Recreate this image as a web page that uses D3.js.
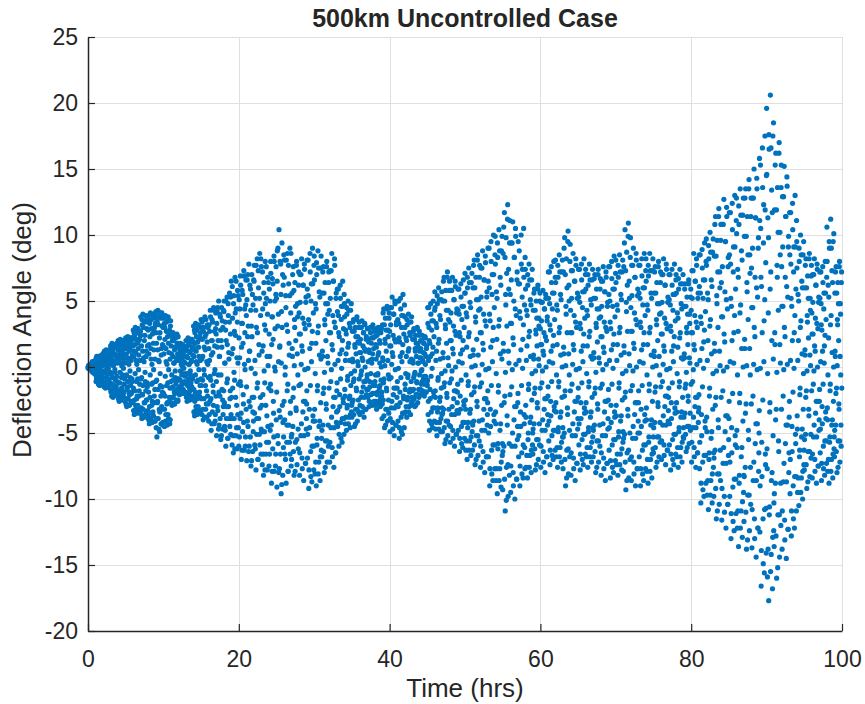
<!DOCTYPE html>
<html>
<head>
<meta charset="utf-8">
<script src="https://cdn.jsdelivr.net/npm/d3@7/dist/d3.min.js"></script>
<style>
  html, body { margin: 0; padding: 0; background: #ffffff; }
  svg { display: block; }
  text { font-family: "Liberation Sans", Arial, Helvetica, sans-serif; fill: #262626; }
</style>
</head>
<body>
<script>
// Axis ticks and labels
const xTicks = [0, 20, 40, 60, 80, 100];
const xTickLabels = ["0", "20", "40", "60", "80", "100"];
const yTicks = [-20, -15, -10, -5, 0, 5, 10, 15, 20, 25];
const yTickLabels = ["-20", "-15", "-10", "-5", "0", "5", "10", "15", "20", "25"];
const chartTitle = "500km Uncontrolled Case";
const xTitle = "Time (hrs)";
const yTitle = "Deflection Angle (deg)";

// Deflection angle samples (deg). Row k of each "on-step" table holds the samples
// logged during hour k at equal spacing; the matching "mid-step" row holds the
// samples that fall halfway between them.
const hours00to14 = [
  [0.0,0.0,0.1,-0.1,0.0,0.1,-0.1,0.0,0.2,-0.2,0.1,-0.1,0.2,-0.2,0.3,-0.3,0.2,-0.1,0.4,-0.4,0.3,-0.5],
  [0.5,-0.6,0.7,-0.9,0.2,-1.1,0.6,-0.3,0.8,-1.2,0.4,-0.8,-1.4,0.6,-0.2,0.7,-1.0,0.3,-0.5,0.8,-1.3,0.1],
  [1.0,-1.2,0.4,-1.5,1.2,-0.3,0.9,-1.6,0.2,1.3,-0.8,-1.4,0.7,-0.1,1.1,-1.0,0.5,-1.5,1.3,-0.5,0.8,-1.2],
  [1.6,-1.9,0.6,-2.2,1.8,-0.8,1.2,-2.3,0.1,1.7,-1.4,-2.0,1.0,-0.4,1.5,-1.7,0.8,-2.1,1.8,-1.1,0.3,-1.8],
  [2.0,-2.4,0.9,-2.6,1.5,-1.2,2.1,-2.0,0.3,1.8,-1.6,-2.5,1.2,-0.6,2.0,-2.2,0.6,-1.9,1.6,-0.9,-2.6,1.9],
  [2.2,-2.8,1.0,-3.0,1.8,-1.5,2.3,-2.4,0.4,2.0,-2.0,-2.9,1.4,-0.8,2.2,-2.6,0.7,-1.9,1.7,-1.1,-2.7,2.1],
  [2.8,-3.3,1.2,-3.6,2.4,-1.8,3.0,-2.9,0.5,2.6,-2.4,-3.5,1.8,-0.9,2.9,-3.1,0.9,-2.2,2.1,-1.3,-3.4,2.7],
  [3.8,-3.6,1.6,-3.9,3.2,-2.1,4.0,-3.2,0.7,3.5,-2.7,-3.8,2.4,-1.1,3.9,-3.4,1.2,-2.5,2.9,-1.5,-3.7,3.6],
  [3.9,-4.0,1.7,-4.3,3.3,-2.3,4.1,-3.5,0.6,3.6,-2.9,-4.2,2.5,-1.2,4.0,-3.7,1.3,-2.7,3.0,-1.7,-4.1,3.7],
  [4.2,-4.6,1.8,-5.3,3.4,-2.6,4.3,-3.9,0.5,3.8,-3.2,-4.9,2.6,-1.4,4.1,-4.3,1.4,-3.0,3.1,-1.9,-4.4,3.9],
  [3.7,-4.2,1.5,-4.5,3.0,-2.2,3.9,-3.6,0.4,3.4,-2.8,-4.4,2.3,-1.2,3.8,-3.9,1.1,-2.6,2.8,-1.6,-4.0,3.5],
  [2.5,-2.7,1.0,-2.9,2.0,-1.5,2.6,-2.3,0.3,2.2,-1.9,-2.8,1.5,-0.8,2.4,-2.5,0.7,-1.7,1.8,-1.0,-2.6,2.3],
  [1.7,-1.9,0.7,-2.1,1.3,-1.0,1.8,-1.6,0.2,1.5,-1.3,-2.0,1.0,-0.5,1.6,-1.8,0.4,-1.2,1.2,-0.7,-1.9,1.4],
  [2.0,-2.3,0.8,-2.6,1.6,-1.2,2.2,-2.0,0.2,1.8,-1.6,-2.5,1.2,-0.6,2.1,-2.2,0.5,-1.5,1.5,-0.9,-2.4,1.9],
  [3.1,-3.4,1.3,-3.7,2.6,-1.9,3.3,-3.0,0.4,2.8,-2.4,-3.6,1.9,-1.0,3.2,-3.2,0.8,-2.2,2.3,-1.4,-3.5,3.0]
];
const hours00to14Mid = [
  [-0.1,0.0,0.1,-0.1,0.1,0.0,-0.2,0.1,0.2,-0.1,0.0,-0.3,0.4,-0.4,0.2,0.0,0.3,-0.3,-0.5,0.1,0.4,-0.1],
  [0.5,-1.1,-0.3,0.8,-0.8,0.3,-0.5,0.7,-1.3,0.1,0.5,-1.0,-0.1,0.8,-0.6,0.2,-0.9,0.9,-0.4,0.4,-1.2,0.6],
  [-0.8,0.3,1.1,-1.2,0.7,-0.3,-1.5,0.5,0.9,-0.5,0.1,-1.0,1.2,-1.4,0.6,-0.1,0.8,-0.9,-1.6,0.2,1.0,-0.4],
  [1.1,-1.8,-0.5,1.6,-1.3,0.5,-0.8,1.4,-2.2,0.2,0.9,-1.6,-0.2,1.5,-1.0,0.4,-1.5,1.7,-0.7,0.7,-2.0,1.3],
  [-1.2,0.5,1.8,-1.8,1.2,-0.4,-2.3,0.7,1.5,-0.8,0.1,-1.6,2.0,-2.1,0.9,-0.1,1.4,-1.3,-2.5,0.3,1.7,-0.7],
  [1.4,-2.4,-0.6,2.1,-1.7,0.7,-1.1,1.7,-2.9,0.2,1.2,-2.1,-0.3,2.0,-1.4,0.5,-2.0,2.2,-0.9,0.9,-2.6,1.6],
  [-1.6,0.8,2.6,-2.5,1.7,-0.5,-3.2,1.1,2.1,-1.1,0.2,-2.2,2.9,-2.9,1.4,-0.2,2.0,-1.8,-3.4,0.5,2.4,-0.9],
  [2.4,-3.1,-0.8,3.6,-2.1,1.2,-1.4,3.0,-3.7,0.4,2.0,-2.7,-0.4,3.4,-1.8,0.8,-2.5,3.8,-1.2,1.6,-3.3,2.8],
  [-1.9,1.0,3.5,-3.0,2.3,-0.6,-3.9,1.4,2.9,-1.3,0.2,-2.6,3.9,-3.4,1.8,-0.2,2.7,-2.2,-4.1,0.6,3.3,-1.1],
  [2.6,-3.9,-1.0,3.9,-2.7,1.3,-1.7,3.2,-4.7,0.4,2.2,-3.4,-0.5,3.7,-2.2,0.9,-3.2,4.1,-1.5,1.7,-4.2,3.0],
  [-2.0,1.0,3.3,-3.2,2.1,-0.7,-4.1,1.4,2.7,-1.4,0.2,-2.7,3.7,-3.6,1.8,-0.2,2.5,-2.3,-4.3,0.6,3.1,-1.1],
  [1.6,-2.3,-0.6,2.3,-1.6,0.8,-1.0,2.0,-2.8,0.3,1.3,-2.0,-0.3,2.2,-1.3,0.5,-1.9,2.5,-0.9,1.0,-2.5,1.8],
  [-0.9,0.5,1.5,-1.5,1.0,-0.3,-1.9,0.6,1.3,-0.6,0.1,-1.3,1.7,-1.7,0.8,-0.1,1.2,-1.1,-2.0,0.3,1.4,-0.5],
  [1.3,-2.1,-0.5,2.0,-1.4,0.7,-0.9,1.7,-2.5,0.2,1.1,-1.8,-0.3,1.9,-1.2,0.4,-1.7,2.1,-0.8,0.9,-2.2,1.5],
  [-1.7,0.8,2.8,-2.6,1.8,-0.6,-3.3,1.2,2.3,-1.1,0.2,-2.2,3.1,-3.0,1.5,-0.2,2.1,-1.9,-3.5,0.5,2.6,-0.9]
];
const hours15to44 = [
  [3.6,-1.4,-3.6,2.1,0.8,-4.0,3.0,-2.4,-0.6,3.8,1.3,-3.2,2.5,-1.8,-3.8,3.2,0.2,-2.8],
  [-4.1,3.2,0.5,-2.6,4.3,-1.0,-4.8,2.0,3.6,-3.4,1.1,-1.9,4.5,-4.3,2.7,-0.2,-3.6,4.1],
  [2.5,-5.2,4.3,1.5,-3.3,-0.6,5.0,-4.4,0.8,-2.2,3.8,-5.5,2.0,4.5,-1.7,-4.7,3.0,-3.0],
  [-1.8,5.0,-4.5,0.3,3.4,-6.0,2.0,-3.0,5.3,-0.9,-5.4,3.9,1.1,-3.9,5.6,-2.4,2.5,-5.1],
  [6.5,-2.3,-5.9,3.7,1.4,-6.5,5.4,-3.9,-1.0,6.8,2.4,-5.2,4.4,-2.9,-6.2,5.8,0.3,-4.6],
  [-6.0,5.1,0.7,-3.9,6.9,-1.4,-7.0,3.3,5.8,-4.9,1.8,-2.8,7.3,-6.3,4.4,-0.2,-5.3,6.6],
  [3.9,-7.1,6.6,2.3,-4.5,0.5,7.8,-6.0,1.2,-3.0,5.9,-7.5,3.1,7.0,-2.3,-6.4,4.7,-4.1],
  [-2.3,7.7,-5.9,-0.5,5.2,-7.8,3.0,-3.9,8.2,-1.2,-7.0,6.0,1.7,-5.1,8.6,-3.1,3.9,-6.6],
  [7.6,-2.9,-7.4,4.4,1.6,-8.2,6.4,-4.9,-1.2,8.0,2.8,-6.6,5.2,-3.7,-7.8,6.8,0.1,-5.7],
  [-7.5,5.9,0.8,-4.8,8.0,-1.8,-8.8,3.8,6.7,-6.2,2.1,-3.5,8.4,-7.9,5.0,-0.3,-6.6,7.6],
  [5.2,-9.1,8.8,3.1,-5.8,0.4,10.4,-7.7,1.6,-3.8,7.8,-9.6,4.2,9.4,-2.9,-8.2,6.2,-5.3],
  [-2.6,8.1,-6.6,0.0,5.4,-8.8,3.2,-4.4,8.6,-1.3,-7.9,6.3,1.8,-5.7,9.0,-3.5,4.1,-7.5],
  [-7.0,5.6,0.8,-4.5,7.6,-1.6,-8.2,3.6,6.4,-5.7,2.0,-3.3,8.0,-7.4,4.8,-0.6,-6.2,7.2],
  [4.1,-8.2,7.0,2.5,-5.2,0.2,8.2,-6.9,1.2,-3.4,6.2,-8.6,3.3,7.4,-2.6,-7.3,4.9,-4.7],
  [-2.8,8.1,-6.9,-0.1,5.4,-9.2,3.2,-4.6,8.6,-1.4,-8.3,6.3,1.8,-6.0,9.0,-3.7,4.1,-7.8],
  [8.4,-3.2,-8.1,4.8,1.8,-9.0,7.0,-5.4,-1.4,8.8,3.1,-7.2,5.7,-4.1,-8.6,7.5,0.6,-6.3],
  [-6.8,5.6,0.8,-4.4,7.6,-1.6,-8.0,3.6,6.4,-5.6,2.0,-3.2,8.0,-7.2,4.8,0.3,-6.0,7.2],
  [4.3,-7.2,7.3,2.6,-4.6,-0.2,8.6,-6.1,1.3,-3.0,6.5,-7.6,3.4,7.7,-2.3,-6.5,5.2,-4.2],
  [-1.8,5.9,-4.5,0.5,3.9,-6.0,2.3,-3.0,6.2,-0.9,-5.4,4.6,1.3,-3.9,6.5,-2.4,2.9,-5.1],
  [4.8,-1.7,-4.3,2.8,1.0,-4.8,4.0,-2.9,-0.7,5.0,1.8,-3.8,3.3,-2.2,-4.6,4.3,-0.5,-3.4],
  [-3.8,2.7,0.4,-2.5,3.6,-0.9,-4.5,1.7,3.0,-3.2,1.0,-1.8,3.8,-4.1,2.3,0.1,-3.4,3.4],
  [1.8,-3.6,3.0,1.1,-2.3,-0.3,3.5,-3.0,0.5,-1.5,2.6,-3.8,1.4,3.2,-1.1,-3.2,2.1,-2.1],
  [-0.9,2.9,-2.3,0.4,1.9,-3.0,1.1,-1.5,3.0,-0.5,-2.7,2.2,0.6,-2.0,3.2,-1.2,1.4,-2.6],
  [2.9,-1.1,-2.9,1.7,0.6,-3.2,2.4,-1.9,-0.5,3.0,1.1,-2.6,2.0,-1.4,-3.0,2.6,0.0,-2.2],
  [-3.9,3.2,0.5,-2.5,4.4,-0.9,-4.6,2.1,3.7,-3.2,1.2,-1.8,4.6,-4.1,2.8,-0.6,-3.5,4.1],
  [2.7,-4.9,4.5,1.6,-3.1,0.2,5.3,-4.2,0.8,-2.1,4.0,-5.2,2.1,4.8,-1.6,-4.4,3.2,-2.9],
  [-1.6,5.0,-4.1,-0.1,3.3,-5.4,1.9,-2.7,5.2,-0.8,-4.9,3.9,1.1,-3.5,5.5,-2.2,2.5,-4.6],
  [3.8,-1.3,-3.4,2.2,0.8,-3.8,3.2,-2.3,-0.6,4.0,1.4,-3.0,2.6,-1.7,-3.6,3.4,0.6,-2.7],
  [-2.6,2.1,0.3,-1.7,2.9,-0.6,-3.0,1.4,2.4,-2.1,0.8,-1.2,3.0,-2.7,1.8,0.3,-2.3,2.7],
  [1.2,-2.1,2.0,0.7,-1.3,-0.2,2.4,-1.8,0.4,-0.9,1.8,-2.2,1.0,2.2,-0.7,-1.9,1.4,-1.2]
];
const hours15to44Mid = [
  [-2.4,0.6,3.4,-1.0,-3.2,2.7,-0.2,1.5,-3.8,2.3,-1.4,3.6,-2.8,0.4,1.9,-2.2,3.0,-0.8],
  [1.4,-3.6,2.7,-0.7,3.8,-2.4,0.9,-4.3,2.0,3.4,-1.4,-2.9,4.3,-0.5,1.6,-4.1,2.9,-2.2],
  [-1.1,3.3,-3.0,4.5,2.0,-4.7,-1.9,0.8,4.0,-3.9,2.8,-0.6,-5.2,1.5,3.5,-2.5,-3.6,4.3],
  [4.2,-2.7,0.3,-4.8,2.8,5.0,-3.9,-1.2,1.7,-5.4,4.8,-3.0,0.6,3.4,-4.5,-1.8,5.3,-3.6],
  [-3.9,1.0,6.1,-1.6,-5.2,4.8,-0.4,2.7,-6.2,4.1,-2.3,6.5,-4.6,0.7,3.4,-3.6,5.4,-1.3],
  [2.2,-5.3,4.4,-1.1,6.2,-3.5,1.5,-6.3,3.3,5.5,-2.1,-4.2,6.9,0.2,2.6,-6.0,4.7,-3.2],
  [-1.5,5.1,-4.1,7.0,3.1,-6.4,-2.6,1.2,6.2,-5.3,4.3,-0.1,-7.1,2.3,5.5,-3.4,-4.9,6.6],
  [6.5,-3.5,0.5,-6.2,4.3,7.7,-5.1,-1.6,2.6,-7.0,7.3,-3.9,0.9,5.2,-5.9,-2.3,8.2,-4.7],
  [-4.9,1.2,7.2,-2.1,-6.6,5.6,-0.3,3.2,-7.8,4.8,-2.9,7.6,-5.7,0.8,4.0,-4.5,6.4,-1.6],
  [2.5,-6.6,5.0,-1.3,7.1,-4.4,1.7,-7.9,3.8,6.3,-2.6,-5.3,8.0,0.0,2.9,-7.5,5.5,-4.0],
  [-1.9,6.5,-5.2,9.0,4.0,-8.0,-3.3,1.5,8.0,-6.6,5.5,0.3,-8.9,3.0,7.0,-4.2,-6.1,8.5],
  [6.8,-4.0,-0.6,-7.0,4.5,8.1,-5.7,-1.8,2.7,-7.9,7.7,-4.4,0.9,5.4,-6.6,-2.6,8.6,-5.3],
  [-5.1,1.4,7.0,-2.3,-6.4,5.8,0.1,3.0,-7.9,4.6,-3.1,7.7,-5.5,1.0,3.8,-4.7,6.2,-1.4],
  [2.5,-6.5,4.9,-1.3,7.0,-4.3,1.6,-7.7,3.7,6.2,-2.6,-5.2,7.8,-0.2,2.9,-7.3,5.3,-3.9],
  [-1.8,5.9,-5.1,8.1,3.6,-7.8,-3.2,1.4,7.2,-6.4,5.0,0.4,-8.7,2.7,6.3,-4.1,-6.0,7.7],
  [6.6,-4.1,-0.5,-7.2,4.4,7.9,-5.9,-1.8,2.6,-8.1,7.5,-4.5,0.9,5.3,-6.8,-2.7,8.4,-5.4],
  [-4.8,1.2,7.2,-2.0,-6.4,5.6,-0.4,3.2,-7.6,4.8,-2.8,7.6,-5.6,0.8,4.0,-4.4,6.4,-1.6],
  [2.6,-5.7,5.2,-1.1,7.3,-3.8,1.7,-6.8,3.9,6.5,-2.3,-4.6,8.2,0.2,3.0,-6.5,5.6,-3.4],
  [-1.2,4.2,-3.3,5.9,2.6,-5.1,-2.1,1.0,5.2,-4.2,3.6,-0.1,-5.7,2.0,4.6,-2.7,-3.9,5.5],
  [3.8,-2.2,0.5,-3.8,2.5,4.5,-3.1,-1.0,1.5,-4.3,4.3,-2.4,0.5,3.0,-3.6,-1.4,4.8,-2.9],
  [-2.7,0.6,3.4,-1.1,-3.6,2.7,-0.3,1.5,-4.3,2.3,-1.6,3.6,-3.2,0.4,1.9,-2.5,3.0,-0.9],
  [1.1,-2.9,2.1,-0.6,3.0,-1.9,0.7,-3.4,1.6,2.6,-1.1,-2.3,3.3,0.0,1.2,-3.2,2.3,-1.7],
  [-0.6,2.1,-1.7,2.9,1.3,-2.6,-1.1,0.5,2.6,-2.1,1.8,0.3,-2.9,1.0,2.2,-1.4,-2.0,2.7],
  [2.3,-1.4,-0.6,-2.6,1.5,2.7,-2.1,-0.6,0.9,-2.9,2.6,-1.6,0.3,1.8,-2.4,-1.0,2.9,-1.9],
  [-2.8,0.7,4.1,-1.2,-3.7,3.2,0.1,1.8,-4.4,2.8,-1.6,4.4,-3.2,0.5,2.3,-2.5,3.7,-0.9],
  [1.6,-3.9,3.2,-0.8,4.5,-2.6,1.1,-4.7,2.4,4.0,-1.6,-3.1,5.0,-0.2,1.9,-4.4,3.4,-2.3],
  [-1.1,3.6,-3.0,5.0,2.2,-4.6,-1.9,0.8,4.4,-3.8,3.0,0.4,-5.1,1.7,3.9,-2.4,-3.5,4.7],
  [3.0,-1.7,-0.5,-3.0,2.0,3.6,-2.5,-0.8,1.2,-3.4,3.4,-1.9,0.4,2.4,-2.9,-1.1,3.8,-2.3],
  [-1.8,0.5,2.7,-0.8,-2.4,2.1,-0.4,1.2,-2.9,1.8,-1.1,2.9,-2.1,0.3,1.5,-1.7,2.4,-0.6],
  [0.7,-1.7,1.4,-0.3,2.0,-1.1,0.5,-2.0,1.1,1.8,-0.7,-1.3,2.3,0.2,0.8,-1.9,1.6,-1.0]
];
const hours45to79 = [
  [-1.4,4.5,-3.6,0.5,3.0,-4.8,1.8,-2.4,4.8,-0.7,-4.3,3.5,1.0,-3.1,5.0,-1.9,2.3,-4.1],
  [5.7,-1.8,-4.7,3.3,1.2,-5.2,4.8,-3.1,-0.8,6.0,2.1,-4.2,3.9,-2.3,-4.9,5.1,-0.5,-3.6],
  [-4.9,5.0,0.7,-3.2,6.8,-1.2,-5.8,3.2,5.8,-4.1,1.8,-2.3,7.2,-5.2,4.3,0.1,-4.4,6.5],
  [3.4,-5.7,5.8,2.0,-3.6,-0.3,6.8,-4.8,1.0,-2.4,5.1,-6.0,2.7,6.1,-1.8,-5.1,4.1,-3.3],
  [-1.9,5.9,-4.8,0.4,4.0,-6.4,2.3,-3.2,6.3,-1.0,-5.8,4.6,1.3,-4.2,6.6,-2.6,3.0,-5.4],
  [7.1,-2.5,-6.3,4.1,1.5,-7.0,6.0,-4.2,-1.1,7.5,2.6,-5.6,4.9,-3.2,-6.7,6.4,0.0,-4.9],
  [-6.3,6.0,0.9,-4.1,8.1,-1.5,-7.4,3.8,6.8,-5.2,2.1,-3.0,8.5,-6.7,5.1,-0.6,-5.6,7.7],
  [4.4,-7.6,7.5,2.6,-4.8,0.2,8.8,-6.4,1.3,-3.2,6.6,-8.0,3.5,7.9,-2.4,-6.8,5.3,-4.4],
  [-2.7,9.0,-6.8,-0.1,6.0,-9.0,3.5,-4.5,9.5,-1.4,-8.1,7.0,2.0,-5.9,10.0,-3.6,4.5,-7.7],
  [9.9,-3.4,-8.6,5.7,2.1,-9.6,8.3,-5.8,-1.4,10.4,3.6,-7.7,6.8,-4.3,-9.1,8.8,0.6,-6.7],
  [-9.3,8.6,1.2,-6.0,11.7,-2.2,-10.9,5.5,9.8,-7.6,3.1,-4.4,12.3,-9.8,7.4,0.3,-8.2,11.1],
  [5.5,-9.5,9.4,3.3,-6.0,-0.2,11.0,-8.0,1.7,-4.0,8.3,-10.0,4.4,9.9,-3.0,-8.5,6.6,-5.5],
  [-2.7,9.5,-6.8,0.5,6.3,-9.0,3.7,-4.5,10.0,-1.4,-8.1,7.4,2.1,-5.9,10.5,-3.6,4.7,-7.7],
  [7.4,-2.9,-7.6,4.3,1.6,-8.4,6.2,-5.0,-1.3,7.8,2.7,-6.7,5.1,-3.8,-8.0,6.6,-0.5,-5.9],
  [-6.6,4.3,0.6,-4.3,5.9,-1.6,-7.8,2.8,5.0,-5.5,1.6,-3.1,6.2,-7.0,3.7,0.1,-5.9,5.6],
  [2.9,-7.6,4.9,1.7,-4.8,-0.3,5.8,-6.4,0.9,-3.2,4.4,-8.0,2.3,5.2,-2.4,-6.8,3.5,-4.4],
  [-2.2,7.2,-5.6,0.4,4.8,-7.4,2.8,-3.7,7.6,-1.1,-6.7,5.6,1.6,-4.8,8.0,-3.0,3.6,-6.3],
  [8.1,-2.7,-6.8,4.7,1.7,-7.6,6.8,-4.6,-1.1,8.5,3.0,-6.1,5.5,-3.4,-7.2,7.2,0.0,-5.3],
  [-7.7,7.2,1.0,-5.0,9.8,-1.8,-9.0,4.6,8.2,-6.3,2.6,-3.6,10.3,-8.1,6.2,-0.6,-6.8,9.3],
  [4.3,-8.2,7.3,2.6,-5.2,0.2,8.6,-6.9,1.3,-3.4,6.5,-8.6,3.4,7.7,-2.6,-7.3,5.2,-4.7],
  [-2.3,7.4,-5.9,-0.1,4.9,-7.8,2.9,-3.9,7.8,-1.2,-7.0,5.7,1.6,-5.1,8.2,-3.1,3.7,-6.6],
  [7.4,-2.7,-6.8,4.3,1.6,-7.6,6.2,-4.6,-1.1,7.8,2.7,-6.1,5.1,-3.4,-7.2,6.6,0.6,-5.3],
  [-6.8,5.2,0.7,-4.4,7.0,-1.6,-8.0,3.3,5.9,-5.6,1.9,-3.2,7.4,-7.2,4.4,0.3,-6.0,6.7],
  [3.8,-8.2,6.5,2.3,-5.2,-0.2,7.6,-6.9,1.1,-3.4,5.7,-8.6,3.0,6.8,-2.6,-7.3,4.6,-4.7],
  [-2.5,7.6,-6.3,0.5,5.0,-8.4,2.9,-4.2,8.0,-1.3,-7.6,5.9,1.7,-5.5,8.4,-3.4,3.8,-7.1],
  [8.1,-2.9,-7.4,4.7,1.7,-8.2,6.8,-4.9,-1.2,8.5,3.0,-6.6,5.5,-3.7,-7.8,7.2,-0.5,-5.7],
  [-7.9,7.6,1.1,-5.1,10.4,-1.9,-9.3,4.9,8.7,-6.5,2.7,-3.7,10.9,-8.4,6.5,0.1,-7.0,9.8],
  [4.5,-8.6,7.7,2.7,-5.4,-0.3,9.0,-7.2,1.4,-3.6,6.8,-9.0,3.6,8.1,-2.7,-7.7,5.4,-5.0],
  [-2.7,7.7,-6.8,0.4,5.2,-9.0,3.0,-4.5,8.2,-1.4,-8.1,6.0,1.7,-5.9,8.6,-3.6,3.9,-7.7],
  [8.2,-3.1,-7.9,4.7,1.7,-8.8,6.9,-5.3,-1.3,8.6,3.0,-7.0,5.6,-4.0,-8.4,7.3,0.0,-6.2],
  [-6.5,5.6,0.8,-4.2,7.6,-1.5,-7.6,3.6,6.4,-5.3,2.0,-3.0,8.0,-6.8,4.8,-0.6,-5.7,7.2],
  [4.1,-7.0,7.0,2.5,-4.4,0.2,8.2,-5.9,1.2,-3.0,6.2,-7.4,3.3,7.4,-2.2,-6.3,4.9,-4.1],
  [-2.3,7.0,-5.9,-0.1,4.7,-7.8,2.7,-3.9,7.4,-1.2,-7.0,5.5,1.6,-5.1,7.8,-3.1,3.5,-6.6],
  [7.0,-2.7,-6.8,4.1,1.5,-7.6,5.9,-4.6,-1.1,7.4,2.6,-6.1,4.8,-3.4,-7.2,6.3,0.6,-5.3],
  [-5.4,4.6,0.7,-3.5,6.3,-1.3,-6.4,3.0,5.3,-4.5,1.7,-2.6,6.6,-5.8,4.0,0.3,-4.8,5.9]
];
const hours45to79Mid = [
  [-1.0,3.3,-2.6,4.5,2.0,-4.1,-1.7,0.8,4.0,-3.4,2.8,-0.1,-4.6,1.5,3.5,-2.2,-3.1,4.3],
  [4.5,-2.3,0.5,-4.2,3.0,5.4,-3.4,-1.0,1.8,-4.7,5.1,-2.6,0.6,3.6,-3.9,-1.6,5.7,-3.1],
  [-3.5,1.1,6.5,-1.5,-4.6,5.0,-0.3,2.9,-5.5,4.3,-2.0,6.8,-4.1,0.7,3.6,-3.2,5.8,-1.2],
  [2.0,-4.5,4.1,-0.9,5.8,-3.0,1.4,-5.4,3.1,5.1,-1.8,-3.6,6.5,0.0,2.4,-5.1,4.4,-2.7],
  [-1.3,4.3,-3.5,5.9,2.6,-5.4,-2.2,1.0,5.3,-4.5,3.6,0.3,-6.1,2.0,4.6,-2.9,-4.2,5.6],
  [5.6,-3.2,-0.6,-5.6,3.8,6.8,-4.6,-1.4,2.3,-6.3,6.4,-3.5,0.8,4.5,-5.3,-2.1,7.1,-4.2],
  [-4.4,1.3,7.7,-1.9,-5.9,6.0,0.1,3.4,-7.0,5.1,-2.6,8.1,-5.2,0.9,4.3,-4.1,6.8,-1.5],
  [2.6,-6.0,5.3,-1.2,7.5,-4.0,1.8,-7.2,4.0,6.6,-2.4,-4.8,8.4,-0.2,3.1,-6.8,5.7,-3.6],
  [-1.8,6.5,-5.0,9.0,4.0,-7.7,-3.2,1.5,8.0,-6.3,5.5,0.4,-8.6,3.0,7.0,-4.1,-5.9,8.5],
  [7.8,-4.3,-0.5,-7.7,5.2,9.4,-6.2,-1.9,3.1,-8.6,8.8,-4.8,1.0,6.2,-7.2,-2.9,9.9,-5.8],
  [-6.4,1.8,10.6,-2.7,-8.5,8.3,-0.4,4.7,-10.1,7.1,-3.7,11.2,-7.4,1.2,5.9,-5.8,9.4,-2.1],
  [3.3,-7.5,6.6,-1.5,9.4,-5.0,2.2,-9.0,5.0,8.3,-3.0,-6.0,10.5,0.2,3.9,-8.5,7.2,-4.5],
  [-2.0,6.3,-5.2,8.8,4.2,-7.5,-3.4,1.3,7.8,-6.5,5.3,-0.1,-8.4,3.2,6.8,-4.3,-6.1,8.3],
  [5.9,-3.8,0.5,-6.7,3.9,7.0,-5.5,-1.7,2.3,-7.6,6.6,-4.2,0.8,4.7,-6.3,-2.5,7.4,-5.0],
  [-4.7,0.9,5.6,-2.0,-6.2,4.3,-0.3,2.5,-7.4,3.7,-2.7,5.9,-5.5,0.6,3.1,-4.3,5.0,-1.6],
  [1.7,-6.0,3.5,-1.2,4.9,-4.0,1.2,-7.2,2.6,4.4,-2.4,-4.8,5.5,0.0,2.0,-6.8,3.8,-3.6],
  [-1.5,5.2,-4.1,7.2,3.2,-6.3,-2.6,1.2,6.4,-5.2,4.4,0.3,-7.0,2.4,5.6,-3.3,-4.8,6.8],
  [6.4,-3.4,-0.6,-6.1,4.3,7.7,-4.9,-1.5,2.6,-6.8,7.2,-3.8,0.9,5.1,-5.7,-2.3,8.1,-4.6],
  [-5.3,1.5,9.0,-2.2,-7.0,7.0,0.1,4.0,-8.4,6.0,-3.1,9.5,-6.2,1.0,5.0,-4.8,8.0,-1.8],
  [2.6,-6.5,5.2,-1.3,7.3,-4.3,1.7,-7.7,3.9,6.5,-2.6,-5.2,8.2,-0.2,3.0,-7.3,5.6,-3.9],
  [-1.6,5.3,-4.3,7.4,3.3,-6.6,-2.7,1.2,6.6,-5.5,4.5,0.4,-7.4,2.5,5.7,-3.5,-5.1,7.0],
  [5.9,-3.4,-0.5,-6.1,3.9,7.0,-4.9,-1.5,2.3,-6.8,6.6,-3.8,0.8,4.7,-5.7,-2.3,7.4,-4.6],
  [-4.8,1.1,6.7,-2.0,-6.4,5.2,-0.4,3.0,-7.6,4.4,-2.8,7.0,-5.6,0.7,3.7,-4.4,5.9,-1.6],
  [2.3,-6.5,4.6,-1.3,6.5,-4.3,1.5,-7.7,3.4,5.7,-2.6,-5.2,7.2,0.2,2.7,-7.3,4.9,-3.9],
  [-1.7,5.5,-4.6,7.6,3.4,-7.1,-2.9,1.3,6.7,-5.9,4.6,-0.1,-8.0,2.5,5.9,-3.8,-5.5,7.1],
  [6.4,-3.7,0.5,-6.6,4.3,7.7,-5.3,-1.6,2.6,-7.4,7.2,-4.1,0.9,5.1,-6.2,-2.5,8.1,-4.9],
  [-5.4,1.6,9.4,-2.3,-7.2,7.3,-0.3,4.2,-8.6,6.2,-3.2,9.9,-6.3,1.0,5.2,-5.0,8.3,-1.8],
  [2.7,-6.8,5.4,-1.4,7.7,-4.5,1.8,-8.1,4.1,6.8,-2.7,-5.4,8.6,0.0,3.2,-7.7,5.9,-4.1],
  [-1.8,5.6,-5.0,7.7,3.4,-7.7,-3.2,1.3,6.9,-6.3,4.7,0.3,-8.6,2.6,6.0,-4.1,-5.9,7.3],
  [6.5,-4.0,-0.6,-7.0,4.3,7.7,-5.7,-1.8,2.6,-7.9,7.3,-4.4,0.9,5.2,-6.6,-2.6,8.2,-5.3],
  [-4.6,1.2,7.2,-1.9,-6.1,5.6,0.1,3.2,-7.2,4.8,-2.7,7.6,-5.3,0.8,4.0,-4.2,6.4,-1.5],
  [2.5,-5.6,4.9,-1.1,7.0,-3.7,1.6,-6.7,3.7,6.2,-2.2,-4.4,7.8,-0.2,2.9,-6.3,5.3,-3.3],
  [-1.6,5.1,-4.3,7.0,3.1,-6.6,-2.7,1.2,6.2,-5.5,4.3,0.4,-7.4,2.3,5.5,-3.5,-5.1,6.6],
  [5.6,-3.4,-0.5,-6.1,3.7,6.7,-4.9,-1.5,2.2,-6.8,6.3,-3.8,0.7,4.4,-5.7,-2.3,7.0,-4.6],
  [-3.8,1.0,5.9,-1.6,-5.1,4.6,-0.4,2.6,-6.1,4.0,-2.2,6.3,-4.5,0.7,3.3,-3.5,5.3,-1.3]
];
const hours80to99 = [
  [4.3,-7.2,7.3,2.6,-4.6,-0.2,8.6,-6.1,1.3,-3.0,6.5,-7.6,3.4,7.7,-2.3,-6.5,5.2,-4.2],
  [-3.1,8.5,-7.7,0.5,5.6,-10.3,3.3,-5.2,8.9,-1.5,-9.3,6.6,1.9,-6.7,9.4,-4.1,4.2,-8.8],
  [9.7,-3.8,-9.7,5.6,2.0,-10.8,8.2,-6.5,-1.6,10.2,3.6,-8.6,6.6,-4.9,-10.3,8.7,-0.5,-7.6],
  [-9.8,8.4,1.2,-6.3,11.4,-2.3,-11.5,5.4,9.6,-8.1,3.0,-4.6,12.0,-10.4,7.2,0.1,-8.6,10.8],
  [6.4,-11.6,10.8,3.8,-7.3,-0.3,12.7,-9.8,1.9,-4.9,9.5,-12.2,5.1,11.4,-3.7,-10.4,7.6,-6.7],
  [-3.9,11.7,-9.8,0.4,7.8,-13.0,4.6,-6.5,12.4,-2.0,-11.7,9.1,2.6,-8.5,13.0,-5.2,5.9,-11.1],
  [12.8,-4.8,-12.2,7.4,2.7,-13.6,10.8,-8.2,-2.0,13.5,4.7,-10.9,8.8,-6.1,-12.9,11.5,0.0,-9.5],
  [-11.7,9.9,1.4,-7.6,13.5,-2.8,-13.8,6.4,11.4,-9.7,3.6,-5.5,14.2,-12.4,8.5,-0.6,-10.4,12.8],
  [7.5,-13.7,12.8,4.5,-8.6,0.2,15.0,-11.5,2.3,-5.8,11.3,-14.4,6.0,13.5,-4.3,-12.2,9.0,-7.9],
  [-5.0,15.8,-12.5,-0.1,10.5,-16.6,6.1,-8.3,16.6,-2.5,-14.9,12.3,3.5,-10.8,17.5,-6.6,7.9,-14.1],
  [19.6,-6.2,-15.9,11.3,4.1,-17.7,16.5,-10.6,-2.7,20.6,7.2,-14.2,13.4,-8.0,-16.8,17.5,0.6,-12.4],
  [-13.6,11.9,1.7,-8.8,16.2,-3.2,-16.0,7.7,13.6,-11.2,4.3,-6.4,17.0,-14.4,10.2,0.3,-12.0,15.3],
  [7.6,-13.8,12.9,4.6,-8.7,-0.2,15.2,-11.6,2.3,-5.8,11.4,-14.5,6.1,13.7,-4.4,-12.3,9.1,-8.0],
  [-3.8,11.7,-9.6,0.5,7.8,-12.8,4.6,-6.4,12.4,-1.9,-11.5,9.1,2.6,-8.3,13.0,-5.1,5.9,-10.9],
  [9.5,-3.7,-9.5,5.5,2.0,-10.5,8.0,-6.3,-1.6,10.0,3.5,-8.4,6.5,-4.7,-10.0,8.5,-0.5,-7.4],
  [-7.8,6.0,0.9,-5.1,8.2,-1.8,-9.2,3.9,6.9,-6.4,2.2,-3.7,8.6,-8.3,5.2,0.1,-6.9,7.7],
  [4.1,-8.4,7.0,2.5,-5.3,-0.3,8.2,-7.0,1.2,-3.5,6.2,-8.8,3.3,7.4,-2.6,-7.5,4.9,-4.8],
  [-2.6,7.2,-6.5,0.4,4.8,-8.6,2.8,-4.3,7.6,-1.3,-7.7,5.6,1.6,-5.6,8.0,-3.4,3.6,-7.3],
  [10.6,-3.1,-7.9,6.2,2.2,-8.8,9.0,-5.3,-1.3,11.2,3.9,-7.0,7.3,-4.0,-8.4,9.5,0.0,-6.2],
  [-6.8,5.6,0.8,-4.4,7.6,-1.6,-8.0,3.6,6.4,-5.6,2.0,-3.2,8.0,-7.2,4.8,-0.6,-6.0,7.2]
];
const hours80to99Mid = [
  [2.6,-5.7,5.2,-1.1,7.3,-3.8,1.7,-6.8,3.9,6.5,-2.3,-4.6,8.2,0.2,3.0,-6.5,5.6,-3.4],
  [-2.1,6.1,-5.7,8.5,3.8,-8.8,-3.6,1.4,7.5,-7.2,5.2,-0.1,-9.8,2.8,6.6,-4.6,-6.7,8.0],
  [7.7,-4.9,0.5,-8.6,5.1,9.2,-7.0,-2.2,3.1,-9.7,8.7,-5.4,1.0,6.1,-8.1,-3.2,9.7,-6.5],
  [-6.9,1.8,10.8,-2.9,-9.2,8.4,-0.3,4.8,-10.9,7.2,-4.0,11.4,-8.1,1.2,6.0,-6.3,9.6,-2.3],
  [3.8,-9.2,7.6,-1.8,10.8,-6.1,2.5,-11.0,5.7,9.5,-3.7,-7.3,12.1,0.0,4.4,-10.4,8.3,-5.5],
  [-2.6,8.5,-7.2,11.7,5.2,-11.1,-4.6,2.0,10.4,-9.1,7.2,0.3,-12.4,3.9,9.1,-5.9,-8.5,11.1],
  [10.1,-6.1,-0.6,-10.9,6.8,12.2,-8.8,-2.7,4.1,-12.2,11.5,-6.8,1.4,8.1,-10.2,-4.1,12.8,-8.2],
  [-8.3,2.1,12.8,-3.5,-11.0,9.9,0.1,5.7,-13.1,8.5,-4.8,13.5,-9.7,1.4,7.1,-7.6,11.4,-2.8],
  [4.5,-10.8,9.0,-2.2,12.8,-7.2,3.0,-13.0,6.8,11.3,-4.3,-8.6,14.3,-0.2,5.3,-12.2,9.8,-6.5],
  [-3.3,11.1,-9.0,15.3,6.8,-13.9,-5.7,2.6,13.6,-11.5,9.4,0.4,-15.6,5.1,11.9,-7.4,-10.7,14.5],
  [14.6,-7.7,-0.5,-13.8,9.8,17.6,-11.2,-3.4,5.9,-15.5,16.6,-8.6,2.0,11.7,-12.9,-5.2,18.5,-10.3],
  [-9.6,2.6,15.3,-4.0,-12.8,11.9,-0.4,6.8,-15.2,10.2,-5.6,16.2,-11.2,1.7,8.5,-8.8,13.6,-3.2],
  [4.6,-10.9,9.1,-2.2,12.9,-7.3,3.0,-13.1,6.8,11.4,-4.4,-8.7,14.4,0.2,5.3,-12.3,9.9,-6.5],
  [-2.6,8.5,-7.0,11.7,5.2,-10.9,-4.5,2.0,10.4,-9.0,7.2,-0.1,-12.2,3.9,9.1,-5.8,-8.3,11.1],
  [7.5,-4.7,0.5,-8.4,5.0,9.0,-6.8,-2.1,3.0,-9.5,8.5,-5.3,1.0,6.0,-7.9,-3.2,9.5,-6.3],
  [-5.5,1.3,7.7,-2.3,-7.4,6.0,-0.3,3.4,-8.7,5.2,-3.2,8.2,-6.4,0.9,4.3,-5.1,6.9,-1.8],
  [2.5,-6.6,4.9,-1.3,7.0,-4.4,1.6,-7.9,3.7,6.2,-2.6,-5.3,7.8,0.0,2.9,-7.5,5.3,-4.0],
  [-1.7,5.2,-4.7,7.2,3.2,-7.3,-3.0,1.2,6.4,-6.0,4.4,0.3,-8.2,2.4,5.6,-3.9,-5.6,6.8],
  [8.0,-4.0,-0.6,-7.0,5.3,9.5,-5.7,-1.8,3.2,-7.9,9.0,-4.4,1.1,6.4,-6.6,-2.6,10.1,-5.3],
  [-4.8,1.2,7.2,-2.0,-6.4,5.6,0.1,3.2,-7.6,4.8,-2.8,7.6,-5.6,0.8,4.0,-4.4,6.4,-1.6]
];

// Flatten the hourly rows into (time, angle) samples
const onStepRows = [...hours00to14, ...hours15to44, ...hours45to79, ...hours80to99];
const midStepRows = [...hours00to14Mid, ...hours15to44Mid, ...hours45to79Mid, ...hours80to99Mid];
const samples = [];
onStepRows.forEach((row, hour) => {
  row.forEach((angle, i) => samples.push({ t: hour + i / row.length, angle }));
});
midStepRows.forEach((row, hour) => {
  row.forEach((angle, i) => samples.push({ t: hour + (i + 0.5) / row.length, angle }));
});

const W = 865, H = 704;
const plot = { left: 88, right: 842, top: 37, bottom: 631 };

const x = d3.scaleLinear().domain([0, 100]).range([plot.left, plot.right]);
const y = d3.scaleLinear().domain([-20, 25]).range([plot.bottom, plot.top]);

const svg = d3.select("body").append("svg")
  .attr("width", W).attr("height", H);

// Grid
const grid = svg.append("g").attr("stroke", "#dfdfdf").attr("stroke-width", 1);
grid.selectAll("line.gx").data(xTicks).join("line")
  .attr("class", "gx")
  .attr("x1", d => Math.round(x(d)) + 0.5).attr("x2", d => Math.round(x(d)) + 0.5)
  .attr("y1", plot.top).attr("y2", plot.bottom);
grid.selectAll("line.gy").data(yTicks).join("line")
  .attr("class", "gy")
  .attr("x1", plot.left).attr("x2", plot.right)
  .attr("y1", d => Math.round(y(d)) + 0.5).attr("y2", d => Math.round(y(d)) + 0.5);

// Data points
svg.append("g")
  .attr("fill", "#0072BD")
  .selectAll("circle").data(samples).join("circle")
  .attr("cx", d => x(d.t))
  .attr("cy", d => y(d.angle))
  .attr("r", 2.6);

// Axes with inward ticks
const xAxis = d3.axisBottom(x)
  .tickValues(xTicks)
  .tickFormat((d, i) => xTickLabels[i])
  .tickSizeInner(-7).tickSizeOuter(0).tickPadding(20);
const yAxis = d3.axisLeft(y)
  .tickValues(yTicks)
  .tickFormat((d, i) => yTickLabels[i])
  .tickSizeInner(-7).tickSizeOuter(0).tickPadding(10);

const gx = svg.append("g").attr("transform", `translate(0,${plot.bottom})`).call(xAxis);
const gy = svg.append("g").attr("transform", `translate(${plot.left},0)`).call(yAxis);

[gx, gy].forEach(g => {
  g.select(".domain").attr("stroke", "#262626").attr("stroke-width", 1.5);
  g.selectAll(".tick line").attr("stroke", "#262626").attr("stroke-width", 1.2);
  g.selectAll(".tick text")
    .attr("fill", "#262626")
    .style("font-family", '"Liberation Sans", Arial, Helvetica, sans-serif')
    .style("font-size", "23px");
});

// Titles
svg.append("text")
  .attr("x", (plot.left + plot.right) / 2).attr("y", 27)
  .attr("text-anchor", "middle")
  .style("font-size", "25px").style("font-weight", "bold")
  .attr("fill", "#000000")
  .text(chartTitle);

svg.append("text")
  .attr("x", (plot.left + plot.right) / 2).attr("y", 697)
  .attr("text-anchor", "middle")
  .style("font-size", "26px")
  .text(xTitle);

svg.append("text")
  .attr("transform", `translate(31,${(plot.top + plot.bottom) / 2 - 4}) rotate(-90)`)
  .attr("text-anchor", "middle")
  .style("font-size", "26px")
  .text(yTitle);
</script>
</body>
</html>
